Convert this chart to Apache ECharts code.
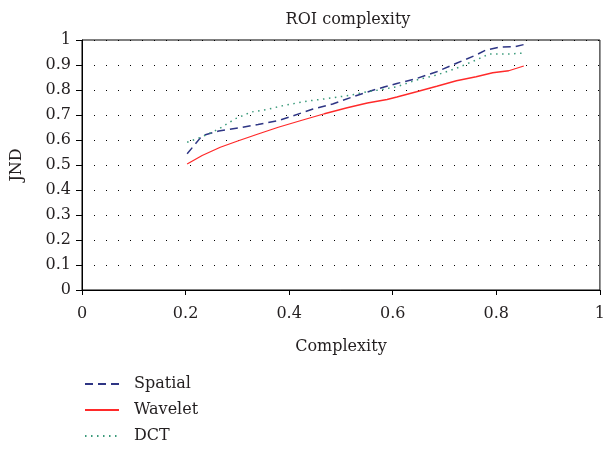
<!DOCTYPE html>
<html><head><meta charset="utf-8">
<script src="https://cdn.jsdelivr.net/npm/echarts@6/dist/echarts.min.js"></script>
<style>html,body{margin:0;padding:0;background:#fff}#c{width:608px;height:449px}</style>
</head><body><div id="c"></div>
<script>
const spatialX = [0.203, 0.232, 0.264, 0.302, 0.34, 0.379, 0.401, 0.446, 0.484, 0.522, 0.56, 0.585, 0.608, 0.646, 0.685, 0.723, 0.761, 0.78, 0.805, 0.837, 0.86];
const spatialY = [0.545, 0.617, 0.636, 0.648, 0.662, 0.678, 0.692, 0.724, 0.744, 0.772, 0.798, 0.813, 0.826, 0.846, 0.873, 0.907, 0.94, 0.96, 0.971, 0.974, 0.985];
const waveletX = [0.203, 0.232, 0.267, 0.302, 0.34, 0.379, 0.423, 0.468, 0.512, 0.551, 0.589, 0.608, 0.646, 0.685, 0.723, 0.761, 0.793, 0.824, 0.853];
const waveletY = [0.504, 0.538, 0.571, 0.597, 0.624, 0.651, 0.678, 0.705, 0.729, 0.748, 0.762, 0.772, 0.793, 0.815, 0.837, 0.853, 0.869, 0.877, 0.896];
const dctX = [0.203, 0.232, 0.264, 0.296, 0.327, 0.359, 0.391, 0.436, 0.474, 0.518, 0.551, 0.579, 0.608, 0.646, 0.685, 0.723, 0.761, 0.786, 0.824, 0.849];
const dctY = [0.591, 0.613, 0.644, 0.685, 0.712, 0.723, 0.739, 0.756, 0.766, 0.779, 0.793, 0.802, 0.813, 0.84, 0.86, 0.887, 0.92, 0.944, 0.944, 0.947];
const seriesNames = ['Spatial', 'Wavelet', 'DCT'];
const title = 'ROI complexity';
const xName = 'Complexity';
const yName = 'JND';

const pair = (xs, ys) => xs.map((x, i) => [x, ys[i]]);
const font = 'DejaVu Serif';
const txt = '#231f20';
const chart = echarts.init(document.getElementById('c'), null, {renderer: 'canvas'});
chart.setOption({
  animation: false,
  title: {text: title, left: 343, top: 7, textAlign: 'center',
    textStyle: {fontFamily: font, fontSize: 16, fontWeight: 'normal', color: txt}},
  grid: {left: 82, right: 3, top: 40, bottom: 159, show: true, borderColor: '#000', borderWidth: 1, backgroundColor: 'transparent'},
  legend: {orient: 'vertical', left: 84, top: 376, padding: 0, itemWidth: 34, itemHeight: 16, itemGap: 10,
    data: seriesNames,
    itemStyle: {opacity: 0},
    textStyle: {fontFamily: font, fontSize: 16, lineHeight: 16, color: txt, padding: [0, 0, 0, 10]}},
  xAxis: {type: 'value', min: 0, max: 1, interval: 0.2,
    name: xName, nameLocation: 'middle', nameGap: 49,
    nameTextStyle: {fontFamily: font, fontSize: 16, color: txt},
    axisLine: {lineStyle: {color: '#000', width: 1}},
    axisTick: {length: 5, lineStyle: {color: '#000'}},
    axisLabel: {margin: 16, fontFamily: font, fontSize: 16, color: txt},
    splitLine: {show: false}},
  yAxis: {type: 'value', min: 0, max: 1, interval: 0.1,
    name: yName, nameLocation: 'middle', nameGap: 57,
    nameTextStyle: {fontFamily: font, fontSize: 16, color: txt},
    axisLine: {show: true, lineStyle: {color: '#000', width: 1}},
    axisTick: {show: true, length: 6, lineStyle: {color: '#000'}},
    axisLabel: {margin: 11, fontFamily: font, fontSize: 16, color: txt},
    splitLine: {show: true, lineStyle: {color: '#000', width: 1, type: [1, 11]}}},
  series: [
    {name: seriesNames[0], type: 'line', symbol: 'none', data: pair(spatialX, spatialY),
      lineStyle: {color: '#2e3584', width: 1.5, type: [8, 5]}, itemStyle: {color: '#2e3584'}},
    {name: seriesNames[1], type: 'line', symbol: 'none', data: pair(waveletX, waveletY),
      lineStyle: {color: '#ff2a2a', width: 1.3, type: 'solid'}, itemStyle: {color: '#ff2a2a'}},
    {name: seriesNames[2], type: 'line', symbol: 'none', data: pair(dctX, dctY),
      lineStyle: {color: '#3a9a7a', width: 1.5, type: [1.5, 4.5]}, itemStyle: {color: '#3a9a7a'}}
  ]
});
</script></body></html>
